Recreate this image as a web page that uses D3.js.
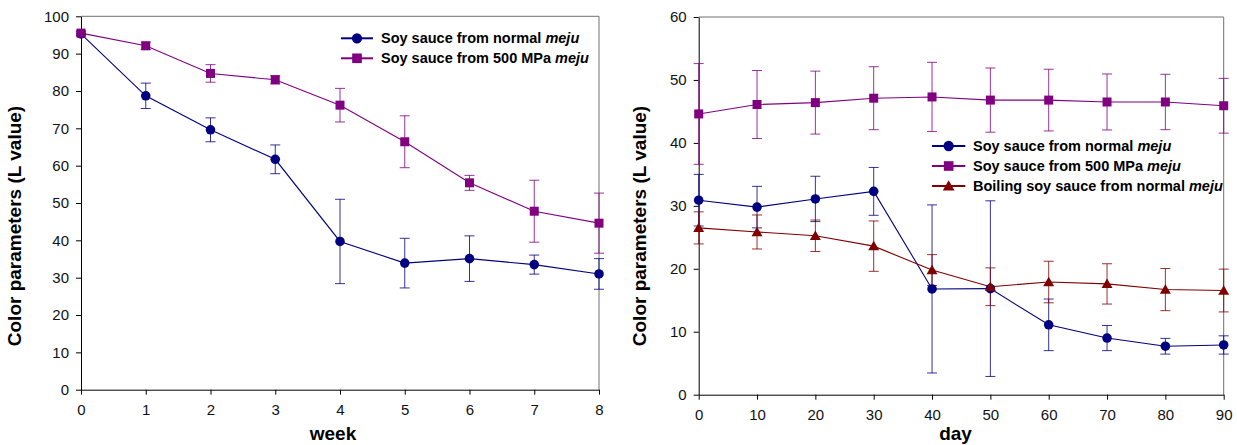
<!DOCTYPE html>
<html>
<head>
<meta charset="utf-8">
<script src="https://cdn.jsdelivr.net/npm/d3@7/dist/d3.min.js"></script>
<style>
  html, body { margin: 0; padding: 0; background: #fff; }
  svg { display: block; font-family: "Liberation Sans", Arial, Helvetica, sans-serif; }
  .tick text { fill: #111; }
</style>
</head>
<body>
<svg id="chart" width="1237" height="445"></svg>
<script>
// ---- Data: weekly storage ----
const weeks = [0, 1, 2, 3, 4, 5, 6, 7, 8];
const normalWeek    = [95.3, 78.7, 69.6, 61.7, 39.7, 33.9, 35.1, 33.5, 31.0];
const normalWeekErr = [0.6, 3.4, 3.2, 3.85, 11.3, 6.65, 6.1, 2.55, 4.1];
const hpWeek        = [95.5, 92.1, 84.7, 83.0, 76.2, 66.4, 55.4, 47.8, 44.6];
const hpWeekErr     = [0.6, 1.0, 2.35, 1.1, 4.5, 6.95, 2.0, 8.3, 8.05];
const weekTicks = [0, 1, 2, 3, 4, 5, 6, 7, 8];
const weekYTicks = [0, 10, 20, 30, 40, 50, 60, 70, 80, 90, 100];

// ---- Data: daily storage ----
const days = [0, 10, 20, 30, 40, 50, 60, 70, 80, 90];
const normalDay    = [30.9, 29.8, 31.1, 32.3, 16.8, 16.85, 11.1, 9.0, 7.7, 7.9];
const normalDayErr = [4.1, 3.3, 3.6, 3.8, 13.35, 13.95, 4.1, 2.0, 1.25, 1.45];
const hpDay        = [44.6, 46.1, 46.4, 47.1, 47.3, 46.8, 46.8, 46.5, 46.5, 45.9];
const hpDayErr     = [8.0, 5.4, 5.0, 5.0, 5.5, 5.1, 4.9, 4.45, 4.4, 4.35];
const boilDay      = [26.5, 25.85, 25.25, 23.6, 19.8, 17.15, 17.9, 17.6, 16.7, 16.55];
const boilDayErr   = [2.55, 2.7, 2.5, 4.0, 2.45, 3.0, 3.3, 3.2, 3.35, 3.4];
const dayTicks = [0, 10, 20, 30, 40, 50, 60, 70, 80, 90];
const dayYTicks = [0, 10, 20, 30, 40, 50, 60];

const seriesNames = ["Soy sauce from normal ", "Soy sauce from 500 MPa ", "Boiling soy sauce from normal "];
const COLORS = { normal: "#000080", hp: "#800080", boil: "#800000" };

const svg = d3.select("#chart");

function markerPath(kind, size) {
  const sym = kind === "circle" ? d3.symbolCircle : kind === "square" ? d3.symbolSquare : d3.symbolTriangle;
  return d3.symbol().type(sym).size(size)();
}
const MARK_SIZE = { circle: 72, square: 81, triangle: 52 };

function drawPanel(opts) {
  const g = svg.append("g");
  const x = d3.scaleLinear().domain(opts.xDomain).range(opts.xRange);
  const y = d3.scaleLinear().domain(opts.yDomain).range(opts.yRange);

  // frame (top and right edges)
  g.append("path")
    .attr("d", `M${x.range()[0]},${y.range()[1]}H${x.range()[1]}V${y.range()[0]}`)
    .attr("fill", "none").attr("stroke", "#707070").attr("stroke-width", 1);

  const xAxis = g.append("g")
    .attr("transform", `translate(0,${y.range()[0]})`)
    .call(d3.axisBottom(x).tickValues(opts.xTicks).tickSize(5).tickSizeOuter(0).tickPadding(10));
  const yAxis = g.append("g")
    .attr("transform", `translate(${x.range()[0]},0)`)
    .call(d3.axisLeft(y).tickValues(opts.yTicks).tickSize(5).tickSizeOuter(0).tickPadding(7));
  [xAxis, yAxis].forEach(a => {
    a.selectAll("text").style("font-size", "15px");
    a.selectAll("path, line").attr("stroke", "#000");
  });

  // axis titles
  g.append("text")
    .attr("x", opts.xTitlePos[0]).attr("y", opts.xTitlePos[1])
    .attr("text-anchor", "middle")
    .style("font-size", "19px").style("font-weight", "bold").attr("fill", "#000")
    .text(opts.xTitle);
  g.append("text")
    .attr("transform", `translate(${opts.yTitlePos[0]},${opts.yTitlePos[1]}) rotate(-90)`)
    .attr("text-anchor", "middle")
    .style("font-size", "19px").style("font-weight", "bold").attr("fill", "#000")
    .text("Color parameters (L value)");

  const line = d3.line().x(d => x(d.x)).y(d => y(d.y));

  opts.series.forEach(s => {
    const pts = opts.xs.map((v, i) => ({ x: v, y: s.values[i], e: s.errors[i] }));
    const eg = g.append("g").attr("stroke", s.color).attr("stroke-width", 1).attr("stroke-opacity", 0.8);
    pts.forEach(p => {
      const cx = x(p.x), t = y(p.y + p.e), b = y(p.y - p.e);
      eg.append("line").attr("x1", cx).attr("x2", cx).attr("y1", t).attr("y2", b);
      eg.append("line").attr("x1", cx - 5).attr("x2", cx + 5).attr("y1", t).attr("y2", t);
      eg.append("line").attr("x1", cx - 5).attr("x2", cx + 5).attr("y1", b).attr("y2", b);
    });
    s._pts = pts;
  });
  opts.series.forEach(s => {
    g.append("path").datum(s._pts).attr("d", line)
      .attr("fill", "none").attr("stroke", s.color).attr("stroke-width", 1.1);
  });
  opts.series.forEach(s => {
    g.append("g").selectAll("path").data(s._pts).join("path")
      .attr("transform", d => `translate(${x(d.x)},${y(d.y) + (s.marker === "triangle" ? 1 : 0)})`)
      .attr("d", markerPath(s.marker, MARK_SIZE[s.marker]))
      .attr("fill", s.color);
  });

  // legend
  const lg = g.append("g");
  opts.series.forEach((s, i) => {
    const ly = opts.legend.y + i * 20;
    lg.append("line").attr("x1", opts.legend.x0).attr("x2", opts.legend.x1)
      .attr("y1", ly).attr("y2", ly).attr("stroke", s.color).attr("stroke-width", 2);
    lg.append("path")
      .attr("transform", `translate(${(opts.legend.x0 + opts.legend.x1) / 2},${ly + (s.marker === "triangle" ? 1 : 0)})`)
      .attr("d", markerPath(s.marker, MARK_SIZE[s.marker] * 1.15)).attr("fill", s.color);
    const t = lg.append("text").attr("x", opts.legend.tx).attr("y", ly + 5)
      .style("font-size", "14.5px").style("font-weight", "bold").attr("fill", "#000");
    t.append("tspan").text(s.name);
    t.append("tspan").style("font-style", "italic").text("meju");
  });
}

drawPanel({
  xDomain: [0, 8], xRange: [81, 599],
  yDomain: [0, 100], yRange: [389.7, 16.3],
  xTicks: weekTicks, yTicks: weekYTicks,
  xs: weeks,
  xTitle: "week", xTitlePos: [333, 440],
  yTitlePos: [21, 226],
  series: [
    { name: seriesNames[0], values: normalWeek, errors: normalWeekErr, color: COLORS.normal, marker: "circle" },
    { name: seriesNames[1], values: hpWeek, errors: hpWeekErr, color: COLORS.hp, marker: "square" }
  ],
  legend: { x0: 341, x1: 373, tx: 381, y: 38.3 }
});

drawPanel({
  xDomain: [0, 90], xRange: [698.7, 1223.7],
  yDomain: [0, 60], yRange: [394.7, 17],
  xTicks: dayTicks, yTicks: dayYTicks,
  xs: days,
  xTitle: "day", xTitlePos: [955.5, 440],
  yTitlePos: [645.5, 226],
  series: [
    { name: seriesNames[0], values: normalDay, errors: normalDayErr, color: COLORS.normal, marker: "circle" },
    { name: seriesNames[1], values: hpDay, errors: hpDayErr, color: COLORS.hp, marker: "square" },
    { name: seriesNames[2], values: boilDay, errors: boilDayErr, color: COLORS.boil, marker: "triangle" }
  ],
  legend: { x0: 932, x1: 965.3, tx: 973, y: 146 }
});
</script>
</body>
</html>
